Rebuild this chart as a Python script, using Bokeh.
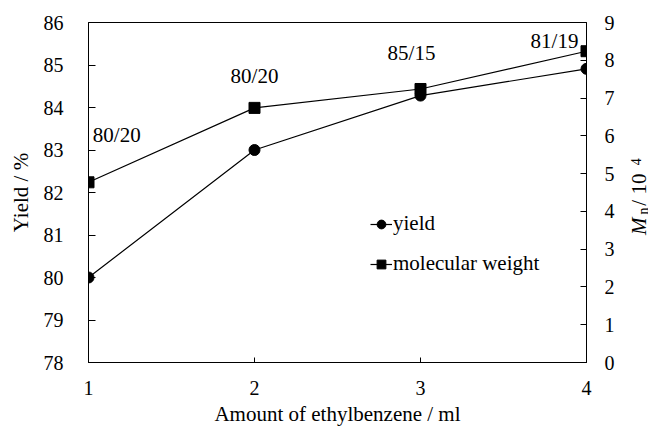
from math import pi
from bokeh.plotting import figure
from bokeh.layouts import row
from bokeh.models import (Range1d, LinearAxis, FixedTicker, Legend, LegendItem,
                          ColumnDataSource)
from bokeh.core.properties import value
from bokeh.embed import file_html
from bokeh.resources import INLINE

# ---- data ----
amount = [1, 2, 3, 4]                      # ml ethylbenzene
yield_pct = [80.0, 83.0, 84.28, 84.91]     # Yield / %
mn_1e4 = [4.77, 6.74, 7.24, 8.24]          # Mn / 10^4
ratio_labels = ["80/20", "80/20", "85/15", "81/19"]
ratio_x = [1.17, 2.0, 2.946, 3.807]
ratio_y = [83.35, 84.75, 85.28, 85.57]
x_ticks = [1, 2, 3, 4]
yield_ticks = [78, 79, 80, 81, 82, 83, 84, 85, 86]
mn_ticks = [0, 1, 2, 3, 4, 5, 6, 7, 8, 9]

# right-axis title pieces (M italic, n subscript, / 10, 4 superscript)
rt_text = ["M", "n", " / 10", "4"]
rt_x = [12.5, 17, 12.5, 9.5]
rt_y = [81.0, 81.48, 81.69, 82.64]
rt_size = ["21px", "14px", "21px", "14px"]
rt_style = ["italic", "normal", "normal", "normal"]

FONT = "Liberation Serif"

p = figure(width=626, height=428, x_range=Range1d(1, 4), y_range=Range1d(78, 86),
           output_backend="svg", toolbar_location=None,
           min_border_left=88, min_border_right=40, min_border_top=22, min_border_bottom=66)
p.extra_y_ranges = {"mw": Range1d(0, 9)}
p.xgrid.visible = False
p.ygrid.visible = False
p.outline_line_color = "black"
p.outline_line_alpha = 1
p.outline_line_width = 1
p.background_fill_color = "white"
p.border_fill_color = "white"

raxis = LinearAxis(y_range_name="mw")
p.add_layout(raxis, "right")

p.xaxis.ticker = FixedTicker(ticks=x_ticks)
p.yaxis[0].ticker = FixedTicker(ticks=yield_ticks)
raxis.ticker = FixedTicker(ticks=mn_ticks)

for ax in [p.xaxis[0], p.yaxis[0], raxis]:
    ax.axis_line_color = "black"
    ax.axis_line_width = 1
    ax.major_tick_line_color = "black"
    ax.minor_tick_line_color = None
    ax.major_tick_out = 0
    ax.major_label_text_font = FONT
    ax.major_label_text_font_size = "20px"
    ax.major_label_text_color = "black"
    ax.axis_label_text_font = FONT
    ax.axis_label_text_font_size = "21px"
    ax.axis_label_text_font_style = "normal"
    ax.axis_label_text_color = "black"

p.xaxis.major_tick_in = 5
p.xaxis.major_label_standoff = 18
p.xaxis.axis_label = "Amount of ethylbenzene / ml"
p.xaxis.axis_label_standoff = 4

p.yaxis[0].major_tick_in = 7
p.yaxis[0].major_label_standoff = 25
p.yaxis[0].axis_label = "Yield / %"
p.yaxis[0].axis_label_standoff = 8

raxis.major_tick_in = 6
raxis.major_label_standoff = 18

src = ColumnDataSource(dict(x=amount, y=yield_pct, m=mn_1e4))
l1 = p.line("x", "y", source=src, line_color="black", line_width=1.2)
c1 = p.scatter("x", "y", source=src, marker="circle", size=11,
               fill_color="black", line_color="black")
l2 = p.line("x", "m", source=src, y_range_name="mw", line_color="black", line_width=1.2)
s2 = p.scatter("x", "m", source=src, y_range_name="mw", marker="square", size=11,
               fill_color="black", line_color="black")

p.text(x=ratio_x, y=ratio_y, text=ratio_labels, text_align="center",
       text_baseline="middle", text_font=value(FONT), text_font_size="21px",
       text_color="black")

legend = Legend(items=[LegendItem(label="yield", renderers=[l1, c1]),
                       LegendItem(label="molecular weight", renderers=[l2, s2])],
                location=(282, 86), orientation="vertical",
                glyph_width=22, glyph_height=24, label_height=24, spacing=15,
                label_standoff=1, padding=0, margin=0,
                border_line_color=None, background_fill_alpha=0,
                label_text_font=FONT, label_text_font_size="21px",
                label_text_color="black")
p.add_layout(legend)

# narrow strip to the right holding the rotated right-axis title
side = figure(width=22, height=428, x_range=Range1d(0, 22), y_range=Range1d(78, 86),
              output_backend="svg", toolbar_location=None,
              x_axis_type=None, y_axis_type=None,
              min_border_left=0, min_border_right=0, min_border_top=22, min_border_bottom=66)
side.grid.visible = False
side.outline_line_color = None
side.background_fill_color = "white"
side.border_fill_color = "white"
for t, xx, yy, sz, st in zip(rt_text, rt_x, rt_y, rt_size, rt_style):
    side.text(x=[xx], y=[yy], text=[t], angle=pi / 2, text_align="left",
              text_baseline="middle", text_font=value(FONT),
              text_font_size=sz, text_font_style=st, text_color="black")

layout = row(p, side)
open("out.html", "w").write(file_html(layout, INLINE))
